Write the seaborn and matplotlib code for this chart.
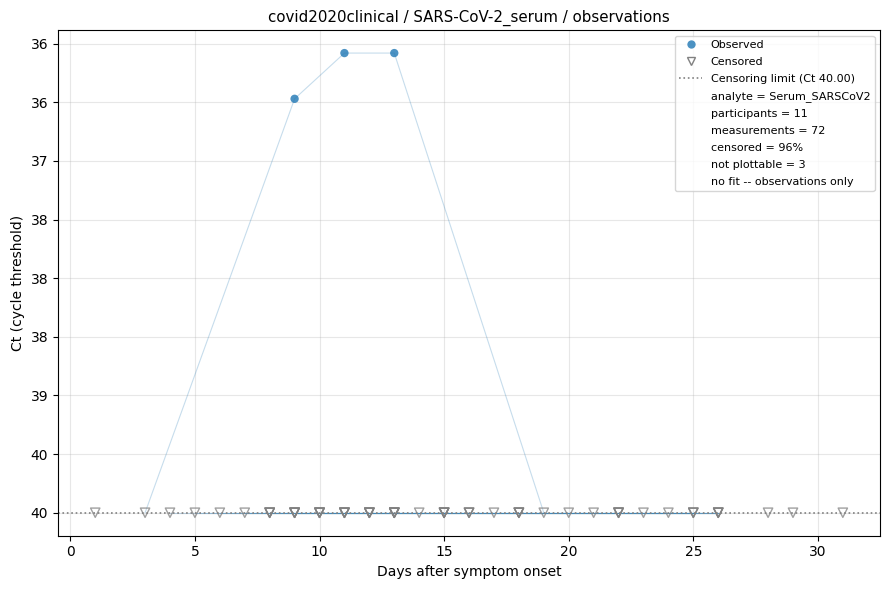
import pandas as pd
import matplotlib
matplotlib.use('Agg')
import matplotlib.pyplot as plt
from matplotlib.lines import Line2D
from matplotlib.ticker import MultipleLocator, FormatStrFormatter
import seaborn as sns

# 관측 데이터 (참가자별 측정일, Ct 값)
CENSOR_CT = 40.0

p01_days = [3, 9, 11, 13, 19]
p01_ct = [40.0, 36.47, 36.08, 36.08, 40.0]

# 나머지 참가자는 모두 검출한계(Ct 40) 이하
censored_days = {
    'P02': [1],
    'P03': [28],
    'P04': [29],
    'P05': [31],
    'P06': [4, 8, 9, 10, 11, 12, 13, 15, 18, 22, 25, 26],
    'P07': [5, 8, 9, 10, 11, 12, 13, 15, 16, 18, 22, 26],
    'P08': [6, 8, 10, 11, 12, 13, 14, 16, 18, 20, 25],
    'P09': [7, 9, 10, 11, 13, 15, 18, 22, 24, 26],
    'P10': [8, 9, 11, 12, 13, 15, 16, 21, 25],
    'P11': [9, 10, 12, 13, 15, 17, 22, 23, 26],
}

legend_notes = [
    'analyte = Serum_SARSCoV2',
    'participants = 11',
    'measurements = 72',
    'censored = 96%',
    'not plottable = 3',
    'no fit -- observations only',
]


def build_frame():
    rows = []
    for d, ct in zip(p01_days, p01_ct):
        rows.append({'participant': 'P01', 'day': d, 'ct': ct,
                     'censored': ct >= CENSOR_CT})
    for pid, days in censored_days.items():
        for d in days:
            rows.append({'participant': pid, 'day': d, 'ct': CENSOR_CT,
                         'censored': True})
    return pd.DataFrame(rows).sort_values(['participant', 'day'])


df = build_frame()
obs = df[~df['censored']]
cens = df[df['censored']]

fig, ax = plt.subplots(figsize=(8.9, 5.9), dpi=100)

# 참가자별 궤적
sns.lineplot(data=df, x='day', y='ct', units='participant', estimator=None,
             color='#1f77b4', alpha=0.25, linewidth=0.8, sort=True, ax=ax,
             legend=False)

sns.scatterplot(data=obs, x='day', y='ct', color='#1f77b4', s=36,
                alpha=0.8, edgecolor='none', ax=ax, legend=False, zorder=3)
ax.scatter(cens['day'], cens['ct'], marker='v', s=45, facecolors='none',
           edgecolors='gray', linewidths=1.0, alpha=0.75, zorder=3)

ax.axhline(CENSOR_CT, color='gray', linestyle=':', linewidth=1.2)

ax.invert_yaxis()
ax.yaxis.set_major_locator(MultipleLocator(0.5))
ax.yaxis.set_major_formatter(FormatStrFormatter('%.0f'))
ax.grid(True, alpha=0.3)

ax.set_xlabel('Days after symptom onset')
ax.set_ylabel('Ct (cycle threshold)')
ax.set_title('covid2020clinical / SARS-CoV-2_serum / observations', fontsize=10.8)

handles = [
    Line2D([], [], marker='o', linestyle='none', color='#1f77b4', alpha=0.8,
           markersize=6, markeredgecolor='none', label='Observed'),
    Line2D([], [], marker='v', linestyle='none', markerfacecolor='none',
           markeredgecolor='gray', markersize=5.5, label='Censored'),
    Line2D([], [], color='gray', linestyle=':', linewidth=1.2,
           label=f'Censoring limit (Ct {CENSOR_CT:.2f})'),
]
for note in legend_notes:
    handles.append(Line2D([], [], linestyle='none', label=note))
ax.legend(handles=handles, loc='upper right', fontsize=8, labelspacing=0.63)

plt.subplots_adjust(left=0.065, right=0.989, top=0.949, bottom=0.092)
plt.savefig('out.png', dpi=100)
plt.close()
